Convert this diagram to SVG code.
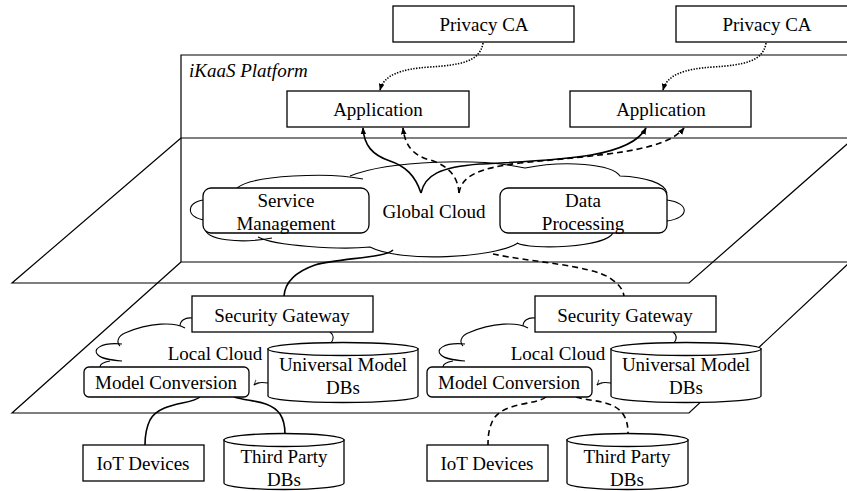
<svg xmlns="http://www.w3.org/2000/svg" width="847" height="491" viewBox="0 0 847 491">
<style>
.ln{fill:none;stroke:#000;stroke-width:1.2}
.bx{fill:#fff;stroke:#000;stroke-width:1.3}
.cl{fill:none;stroke:#000;stroke-width:1.1}
.t{font-family:"Liberation Serif","Times New Roman",serif;font-size:19px;fill:#000;text-anchor:middle}
.solid{fill:none;stroke:#000;stroke-width:1.6}
.dash{fill:none;stroke:#000;stroke-width:1.6;stroke-dasharray:6 4}
.dot{fill:none;stroke:#000;stroke-width:1.6;stroke-dasharray:1.4 1.4}
</style>
<defs>
<marker id="ah" viewBox="0 0 10 10" refX="9" refY="5" markerWidth="7" markerHeight="7" markerUnits="userSpaceOnUse" orient="auto">
<path d="M0,1 L10,5 L0,9 z" fill="#000"/>
</marker>
<marker id="oh" viewBox="0 0 10 10" refX="9" refY="5" markerWidth="6" markerHeight="6" markerUnits="userSpaceOnUse" orient="auto">
<path d="M0,1 L9,5 L0,9" fill="none" stroke="#000" stroke-width="1.2"/>
</marker>
</defs>
<rect width="847" height="491" fill="#fff"/>

<g id="layers">
<path class="ln" d="M181,262 L181,55 L847,55"/>
<path class="ln" d="M181,138 L847,138"/>
<path class="ln" d="M181,262 L847,262"/>
<path class="ln" d="M181,138 L12,283 L689,283 L854,138"/>
<path class="ln" d="M181,262 L12,413 L689,413 L850,262"/>
<text x="189" y="77" class="t" style="font-style:italic;text-anchor:start">iKaaS Platform</text>
</g>

<g id="global-cloud">
<path class="cl" d="M205,200 C186,201 185,218 205,220"/>
<path class="cl" d="M237,188 C252,175 330,172 363,179"/>
<path class="cl" d="M350,176 C390,160 480,158 525,168 C565,160 612,164 620,176 C645,177 665,183 667,193"/>
<path class="cl" d="M667,200 C690,203 690,218 667,221"/>
<path class="cl" d="M613,233 C605,248 530,250 517,243"/>
<path class="cl" d="M518,243 C495,258 400,263 370,247 C340,250 275,246 258,237"/>
<path class="cl" d="M272,238 C240,244 205,240 205,228"/>
<text x="434" y="218" class="t">Global Cloud</text>
</g>

<g id="local-cloud-1">
<path class="cl" d="M192,318 C185,317 180,321 180,326"/>
<path class="cl" d="M185,328 C175,322 150,322 125,333 C118,336 116,342 120,346"/>
<path class="cl" d="M122,344 C100,342 92,350 98,355 C102,359 110,360 122,361"/>
<path class="cl" d="M110,361 C104,362 100,364 100,367"/>
<text x="215" y="360" class="t">Local Cloud</text>
</g>

<g id="local-cloud-2">
<path class="cl" d="M535,318 C528,317 523,321 523,326"/>
<path class="cl" d="M528,328 C518,322 493,322 468,333 C461,336 459,342 463,346"/>
<path class="cl" d="M465,344 C443,342 435,350 441,355 C445,359 453,360 465,361"/>
<path class="cl" d="M453,361 C447,362 443,364 443,367"/>
<text x="558" y="360" class="t">Local Cloud</text>
</g>

<g id="connectors">
<path class="dot" marker-end="url(#ah)" d="M483,43 C480,62 460,65 430,67 C400,69 384,75 380,90"/>
<path class="dot" marker-end="url(#ah)" d="M766,43 C763,62 743,65 713,67 C683,69 667,75 663,90"/>
<path class="solid" marker-end="url(#ah)" d="M421,193 C415,175 405,166 390,161 C372,155 364,145 363,128"/>
<path class="solid" marker-end="url(#ah)" d="M421,193 C425,175 440,167 480,164 C560,160 630,158 646,128"/>
<path class="dash" marker-end="url(#ah)" d="M459,193 C458,178 450,166 430,160 C412,155 405,145 403,128"/>
<path class="dash" marker-end="url(#ah)" d="M459,193 C462,175 480,168 520,163 C600,155 665,152 684,128"/>
<path class="solid" d="M393,250 C385,258 340,258 315,265 C295,272 285,283 284,296"/>
<path class="dash" d="M493,254 C530,262 590,265 610,278 C620,285 623,290 624,296"/>
<path class="cl" d="M330,332 C334,335 334,339 331,343"/>
<path class="cl" d="M673,332 C677,335 677,339 674,343"/>
<path class="cl" marker-end="url(#oh)" d="M268,383 C262,382 257,382 254,385"/>
<path class="cl" marker-end="url(#oh)" d="M611,383 C605,382 600,382 597,385"/>
<path class="solid" d="M200,397 C190,405 160,402 150,420 C146,428 145,435 145,445"/>
<path class="solid" d="M234,397 C250,402 270,400 280,414 C284,420 285,426 285,434"/>
<path class="dash" d="M546,397 C536,405 503,402 493,420 C489,428 488,435 488,445"/>
<path class="dash" d="M576,397 C593,402 613,400 623,414 C627,420 628,426 628,434"/>
</g>

<g id="privacy-ca-1"><rect class="bx" x="393" y="6" width="181" height="36"/><text x="484" y="31" class="t">Privacy CA</text></g>
<g id="privacy-ca-2"><rect class="bx" x="676" y="6" width="180" height="36"/><text x="767" y="31" class="t">Privacy CA</text></g>
<g id="application-1"><rect class="bx" x="287" y="91" width="182" height="36"/><text x="378" y="116" class="t">Application</text></g>
<g id="application-2"><rect class="bx" x="570" y="91" width="181" height="36"/><text x="661" y="116" class="t">Application</text></g>
<g id="service-management"><rect class="bx" x="203" y="188" width="166" height="45" rx="8"/><text x="286" y="207" class="t">Service</text><text x="286" y="230" class="t">Management</text></g>
<g id="data-processing"><rect class="bx" x="500" y="188" width="167" height="45" rx="8"/><text x="583" y="207" class="t">Data</text><text x="583" y="230" class="t">Processing</text></g>

<g id="security-gateway-1"><rect class="bx" x="192" y="296" width="181" height="36"/><text x="282" y="322" class="t">Security Gateway</text></g>
<g id="security-gateway-2"><rect class="bx" x="535" y="296" width="181" height="36"/><text x="625" y="322" class="t">Security Gateway</text></g>

<g id="universal-model-dbs-1">
<path class="bx" d="M268,349 L268,396 A75,6.5 0 0 0 418,396 L418,349 Z"/>
<ellipse class="bx" cx="343" cy="349" rx="75" ry="6.5"/>
<text x="343" y="371" class="t">Universal Model</text><text x="343" y="394" class="t">DBs</text>
</g>
<g id="universal-model-dbs-2">
<path class="bx" d="M611,349 L611,396 A75,6.5 0 0 0 761,396 L761,349 Z"/>
<ellipse class="bx" cx="686" cy="349" rx="75" ry="6.5"/>
<text x="686" y="371" class="t">Universal Model</text><text x="686" y="394" class="t">DBs</text>
</g>

<g id="model-conversion-1"><rect class="bx" x="84" y="367" width="165" height="30" rx="5"/><text x="166" y="389" class="t">Model Conversion</text></g>
<g id="model-conversion-2"><rect class="bx" x="427" y="367" width="165" height="30" rx="5"/><text x="509" y="389" class="t">Model Conversion</text></g>

<g id="iot-devices-1"><rect class="bx" x="83" y="445" width="121" height="36"/><text x="143" y="470" class="t">IoT Devices</text></g>
<g id="iot-devices-2"><rect class="bx" x="427" y="445" width="121" height="36"/><text x="487" y="470" class="t">IoT Devices</text></g>

<g id="third-party-dbs-1">
<path class="bx" d="M224,440 L224,483 A60,6.5 0 0 0 344,483 L344,440 Z"/>
<ellipse class="bx" cx="284" cy="440" rx="60" ry="6.5"/>
<text x="284" y="463" class="t">Third Party</text><text x="284" y="486" class="t">DBs</text>
</g>
<g id="third-party-dbs-2">
<path class="bx" d="M567,440 L567,483 A60.5,6.5 0 0 0 688,483 L688,440 Z"/>
<ellipse class="bx" cx="627.5" cy="440" rx="60.5" ry="6.5"/>
<text x="627" y="463" class="t">Third Party</text><text x="627" y="486" class="t">DBs</text>
</g>
</svg>
